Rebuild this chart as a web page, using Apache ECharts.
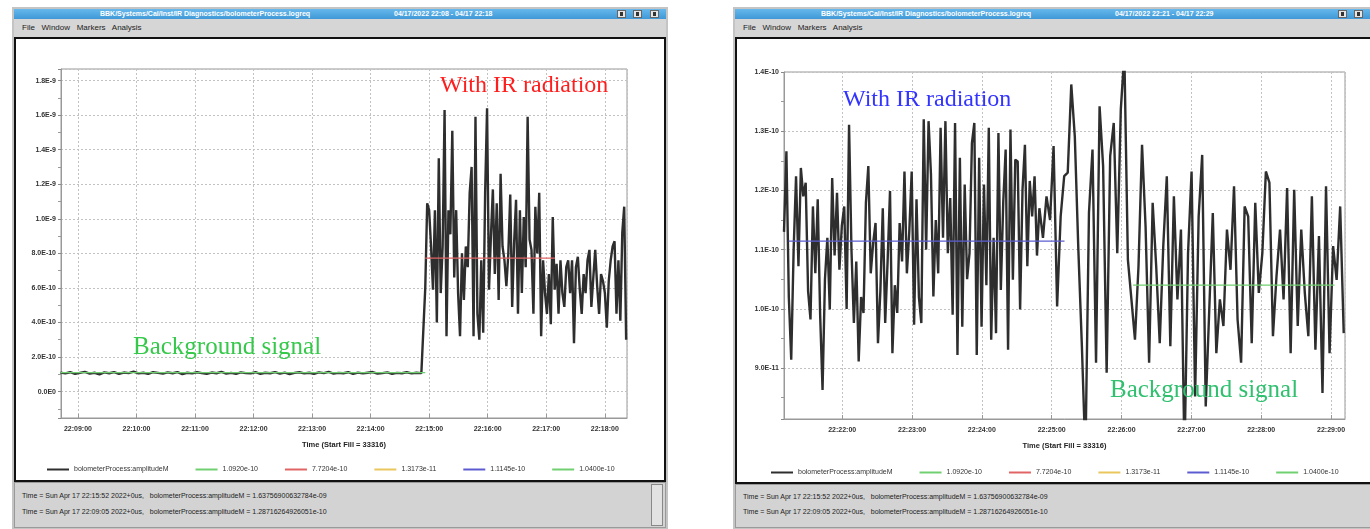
<!DOCTYPE html>
<html><head><meta charset="utf-8">
<script src="https://cdn.jsdelivr.net/npm/echarts@6/dist/echarts.min.js"></script>
<style>
html,body{margin:0;padding:0;background:#fff;}
body{width:1370px;height:529px;position:relative;overflow:hidden;font-family:"Liberation Sans",Arial,sans-serif;}
.abs{position:absolute;box-sizing:border-box;}
.frame{background:#c4c4c4;}
.titlebar{background:linear-gradient(#66b8ec,#3f98d6);color:#fff;font-weight:bold;font-size:7px;line-height:10px;white-space:pre;overflow:hidden;}
.titlebar span{position:absolute;top:0;}
.btn{position:absolute;top:1px;width:9px;height:8px;background:#e6e6e6;border:1px solid #666;box-sizing:border-box;}
.btn i{position:absolute;left:2px;top:1px;width:3px;height:4px;background:#333;}
.menubar{background:#d6d6d6;font-size:8px;color:#222;line-height:18px;white-space:pre;padding-left:8px;}
.panel{background:#fff;border:2px solid #111;}
.status{background:#d3d3d3;border:1px solid #9a9a9a;font-size:7px;color:#222;white-space:pre;}
.status div{position:absolute;left:7px;}
.scroll{background:#e2e2e2;border:1px solid #888;}
#chart{position:absolute;left:0;top:0;width:1370px;height:529px;z-index:5;}
</style></head><body>

<!-- left window -->
<div class="abs frame" style="left:12px;top:7px;width:656px;height:522px"></div>
<div class="abs titlebar" style="left:14px;top:9px;width:652px;height:10px">
  <span style="left:86px">BBK/Systems/Cal/Inst/IR Diagnostics/bolometerProcess.logreq</span>
  <span style="left:380px">04/17/2022 22:08 - 04/17 22:18</span>
  <div class="btn" style="left:603px"><i></i></div>
  <div class="btn" style="left:619px"><i></i></div>
  <div class="btn" style="left:636px"><i></i></div>
</div>
<div class="abs menubar" style="left:14px;top:19px;width:652px;height:18px">File   Window   Markers   Analysis</div>
<div class="abs panel" style="left:14px;top:37px;width:652px;height:445px"></div>
<div class="abs status" style="left:14px;top:482px;width:652px;height:46px">
  <div style="top:9px">Time = Sun Apr 17 22:15:52 2022+0us,   bolometerProcess:amplitudeM = 1.63756900632784e-09</div>
  <div style="top:25px">Time = Sun Apr 17 22:09:05 2022+0us,   bolometerProcess:amplitudeM = 1.28716264926051e-10</div>
</div>
<div class="abs scroll" style="left:651px;top:484px;width:12px;height:42px"></div>

<!-- right window -->
<div class="abs frame" style="left:733px;top:7px;width:656px;height:522px"></div>
<div class="abs titlebar" style="left:735px;top:9px;width:652px;height:10px">
  <span style="left:86px">BBK/Systems/Cal/Inst/IR Diagnostics/bolometerProcess.logreq</span>
  <span style="left:380px">04/17/2022 22:21 - 04/17 22:29</span>
  <div class="btn" style="left:603px"><i></i></div>
  <div class="btn" style="left:619px"><i></i></div>
  <div class="btn" style="left:636px"><i></i></div>
</div>
<div class="abs menubar" style="left:735px;top:19px;width:652px;height:18px">File   Window   Markers   Analysis</div>
<div class="abs panel" style="left:735px;top:37px;width:652px;height:447px"></div>
<div class="abs status" style="left:735px;top:484px;width:652px;height:44px">
  <div style="top:8px">Time = Sun Apr 17 22:15:52 2022+0us,   bolometerProcess:amplitudeM = 1.63756900632784e-09</div>
  <div style="top:23px">Time = Sun Apr 17 22:09:05 2022+0us,   bolometerProcess:amplitudeM = 1.28716264926051e-10</div>
</div>

<div id="chart"></div>
<script>
// ---------------- data ----------------
// Left chart: amplitude in units of 1e-10
const LEFT_BG_START = '22:08:42', LEFT_BG_STEP_S = 5;
const leftBackground_e10 = [
  1.10,1.05,1.12,1.02,1.08,1.14,1.04,1.09,1.00,1.11,1.06,1.13,1.03,1.10,1.07,1.15,1.05,1.09,1.02,1.12,
  1.08,1.04,1.11,1.06,1.13,1.01,1.09,1.05,1.12,1.07,1.03,1.10,1.06,1.14,1.04,1.08,1.02,1.11,1.07,1.05,
  1.12,1.03,1.09,1.06,1.13,1.04,1.10,1.01,1.08,1.12,1.05,1.09,1.03,1.11,1.07,1.14,1.04,1.08,1.06,1.12,
  1.02,1.10,1.05,1.09,1.13,1.04,1.07,1.11,1.03,1.08,1.06,1.12,1.05,1.09,1.07
];
const LEFT_IR_START = '22:14:56', LEFT_IR_STEP_S = 1.98;
const leftIR_e10 = [
  6.0,10.9,10.5,8.4,5.9,10.5,4.0,13.5,5.7,8.4,
  16.3,3.2,10.5,9.1,15.1,6.6,10.5,5.7,3.2,8.0,
  5.3,8.4,7.2,11.5,13.0,3.2,15.9,4.5,3.0,7.6,
  3.4,11.5,16.4,5.9,9.0,11.7,6.8,10.9,5.3,12.6,
  8.4,7.6,6.1,8.0,11.4,4.9,8.6,11.1,4.5,10.5,
  5.7,10.1,7.2,15.9,8.8,8.2,4.5,10.7,8.0,11.5,
  3.2,7.6,5.7,4.5,6.8,3.9,10.1,5.9,7.4,4.5,
  7.6,5.7,4.9,7.2,7.6,5.7,7.6,2.8,7.2,7.8,
  5.9,4.5,6.8,5.7,7.6,8.2,4.9,6.6,8.2,6.1,
  4.5,6.8,6.4,5.7,3.7,6.4,7.6,8.4,8.7,4.5,
  7.6,4.1,9.2,10.7,3.0
];
// Right chart: amplitude in units of 1e-11
const RIGHT_A_START = '22:21:10', RIGHT_A_STEP_S = 2.07;
const rightA_e11 = [
  11.3,12.66,10.2,9.14,11.0,12.24,10.72,12.38,11.9,12.13,
  10.3,9.82,11.73,10.6,11.85,9.9,8.63,10.5,11.2,9.99,
  12.21,10.9,11.96,10.66,11.4,11.73,10.0,13.11,11.0,9.76,
  10.8,9.11,10.2,9.93,11.79,12.41,10.6,11.11,11.45,9.42,
  10.3,11.7,9.76,10.8,11.99,9.25,10.4,9.93,11.45,10.8,
  12.32,10.6,11.3,12.32,9.73,11.85,10.2,9.76,13.2,11.0,
  13.17,12.27,10.21,11.5,10.6,13.06,11.2,13.17,10.94,11.87,
  9.9,13.14,9.22,12.55,9.7,12.1,10.5,10.94,12.8,13.14,
  9.22,12.55,9.7,12.1,10.4,13.06,9.48,11.2,9.59,12.97,
  10.32,11.8,12.69,9.31,13.03,10.49,12.52,12.49,9.99,12.01,
  12.77,10.72,12.16,11.56,12.24,10.9,11.7
];
const RIGHT_B_START = '22:24:52.5', RIGHT_B_STEP_S = 3.04;
const rightB_e11 = [
  11.2,11.9,11.5,12.75,10.04,11.56,12.24,12.3,13.79,12.91,
  11.0,9.37,7.5,11.62,12.69,9.09,13.42,12.41,8.92,12.58,
  13.14,10.94,13.37,14.3,10.83,10.16,9.48,10.72,12.77,11.39,
  9.09,11.79,10.72,9.42,11.06,12.24,9.37,11.9,10.16,11.34,
  7.5,10.94,12.32,8.52,11.56,12.6,8.35,9.99,11.62,9.25,
  10.16,9.71,11.34,10.66,12.07,9.82,9.09,11.73,11.56,9.42,
  11.79,10.27,10.94,12.32,12.13,9.54,10.55,11.34,10.16,12.04,
  9.25,12.01,9.71,11.34,10.27,9.54,11.9,9.31,11.23,8.58,
  12.07,9.25,11.06,10.49,11.73,9.59
];
const legendNames = ['bolometerProcess:amplitudeM','1.0920e-10','7.7204e-10','1.3173e-11','1.1145e-10','1.0400e-10'];
const legendColors = ['#2e2e2e','#70cf70','#e06464','#e9c65e','#5c5cd0','#70cf70'];
// horizontal statistic markers: series name, time span, level (absolute)
const leftMeans = [
  {name:'1.0920e-10', from:'22:08:42', to:'22:14:56', level:1.0920e-10},
  {name:'7.7204e-10', from:'22:14:56', to:'22:17:09', level:7.7204e-10}
];
const rightMeans = [
  {name:'1.1145e-10', from:'22:21:14', to:'22:25:11', level:1.1145e-10},
  {name:'1.0400e-10', from:'22:26:10', to:'22:29:03', level:1.0400e-10}
];
const LEFT_X_RANGE = ['22:08:42.6','22:18:22.8'], LEFT_Y_RANGE_e10 = [-1.53, 18.67];
const RIGHT_X_RANGE = ['22:21:10','22:29:12'], RIGHT_Y_RANGE_e11 = [8.14, 14.0];
const X_NAME = 'Time (Start Fill = 33316)';

// ---------------- helpers ----------------
const toSec = s => { const p = s.split(':'); return (+p[0])*3600 + (+p[1])*60 + parseFloat(p[2]); };
const pad = n => (n < 10 ? '0' : '') + n;
const fmtTime = v => { const s = Math.round(v); return pad(Math.floor(s/3600)) + ':' + pad(Math.floor(s%3600/60)) + ':' + pad(s%60); };
const fmtExp = (v, unit) => (v*unit).toExponential(1).replace('e+','E').replace('e','E');
const seg = (start, step, arr) => arr.map((v,i) => [toSec(start) + i*step, v]);

const LABEL_FONT = {fontSize:7, fontWeight:'bold', color:'#333', fontFamily:'Liberation Sans'};
const SPLIT = {show:true, lineStyle:{color:'#c2c2c2', type:[2,2], width:1}};

function xAxisCfg(gi, range) {
  return {type:'value', gridIndex:gi, min:toSec(range[0]), max:toSec(range[1]), minInterval:60, maxInterval:60,
    name:X_NAME, nameLocation:'middle', nameGap:23,
    nameTextStyle:{fontSize:7.5, fontWeight:'bold', color:'#222', fontFamily:'Liberation Sans'},
    axisLine:{show:true, onZero:false, lineStyle:{color:'#999'}},
    axisTick:{show:true, inside:true, length:4, lineStyle:{color:'#999'}},
    axisLabel:Object.assign({formatter:fmtTime, margin:8, showMinLabel:false, showMaxLabel:false}, LABEL_FONT),
    splitLine:SPLIT};
}
function yAxisCfg(gi, range, unit, step, showMax) {
  return {type:'value', gridIndex:gi, min:range[0], max:range[1], minInterval:step, maxInterval:step,
    axisLine:{show:true, onZero:false, lineStyle:{color:'#999'}},
    axisTick:{show:true, length:3, lineStyle:{color:'#888'}},
    minorTick:{show:true, splitNumber:2, length:3, lineStyle:{color:'#999'}},
    axisLabel:Object.assign({formatter:v => fmtExp(v, unit), margin:5, showMinLabel:false, showMaxLabel:showMax}, LABEL_FONT),
    splitLine:SPLIT};
}
function seriesFor(gi, signal, means, unit) {
  return legendNames.map((name, k) => {
    let data = [];
    if (k === 0) data = signal;
    else {
      const m = means.find(o => o.name === name);
      if (m) data = [[toSec(m.from), m.level/unit], [toSec(m.to), m.level/unit]];
    }
    return {name, type:'line', xAxisIndex:gi, yAxisIndex:gi, data, showSymbol:false, symbol:'none',
      animation:false, z: k === 0 ? 2 : 3,
      itemStyle:{color:legendColors[k]},
      lineStyle:{color:legendColors[k], width: k === 0 ? 2.4 : 1.2}};
  });
}
function legendCfg(left, top) {
  return {left, top, data:legendNames, icon:'rect', itemWidth:22, itemHeight:2, itemGap:27, selectedMode:false,
    textStyle:{fontSize:7, color:'#333', fontFamily:'Liberation Sans'}};
}

const leftSignal = seg(LEFT_BG_START, LEFT_BG_STEP_S, leftBackground_e10).concat(seg(LEFT_IR_START, LEFT_IR_STEP_S, leftIR_e10));
const rightSignal = seg(RIGHT_A_START, RIGHT_A_STEP_S, rightA_e11).concat(seg(RIGHT_B_START, RIGHT_B_STEP_S, rightB_e11));

const chart = echarts.init(document.getElementById('chart'), null, {renderer:'canvas'});
chart.setOption({
  animation:false,
  grid:[
    {left:61, top:69, width:566, height:349, show:true, borderColor:'#999', borderWidth:1, backgroundColor:'transparent'},
    {left:784, top:72, width:561, height:347, show:true, borderColor:'#999', borderWidth:1, backgroundColor:'transparent'}
  ],
  xAxis:[xAxisCfg(0, LEFT_X_RANGE), xAxisCfg(1, RIGHT_X_RANGE)],
  yAxis:[yAxisCfg(0, LEFT_Y_RANGE_e10, 1e-10, 2, false), yAxisCfg(1, RIGHT_Y_RANGE_e11, 1e-11, 1, true)],
  legend:[legendCfg(42, 461), legendCfg(766, 464)],
  series: seriesFor(0, leftSignal, leftMeans, 1e-10).concat(seriesFor(1, rightSignal, rightMeans, 1e-11)),
  graphic:[
    {type:'text', left:440, top:74, z:10, style:{text:'With IR radiation', fill:'#ff1e1e', fontSize:24, fontFamily:'Liberation Serif'}},
    {type:'text', left:133, top:335, z:10, style:{text:'Background signal', fill:'#36c84a', fontSize:25, fontFamily:'Liberation Serif'}},
    {type:'text', left:843, top:88, z:10, style:{text:'With IR radiation', fill:'#3434ff', fontSize:24, fontFamily:'Liberation Serif'}},
    {type:'text', left:1110, top:378, z:10, style:{text:'Background signal', fill:'#30c070', fontSize:25, fontFamily:'Liberation Serif'}}
  ]
});
</script>
</body></html>
